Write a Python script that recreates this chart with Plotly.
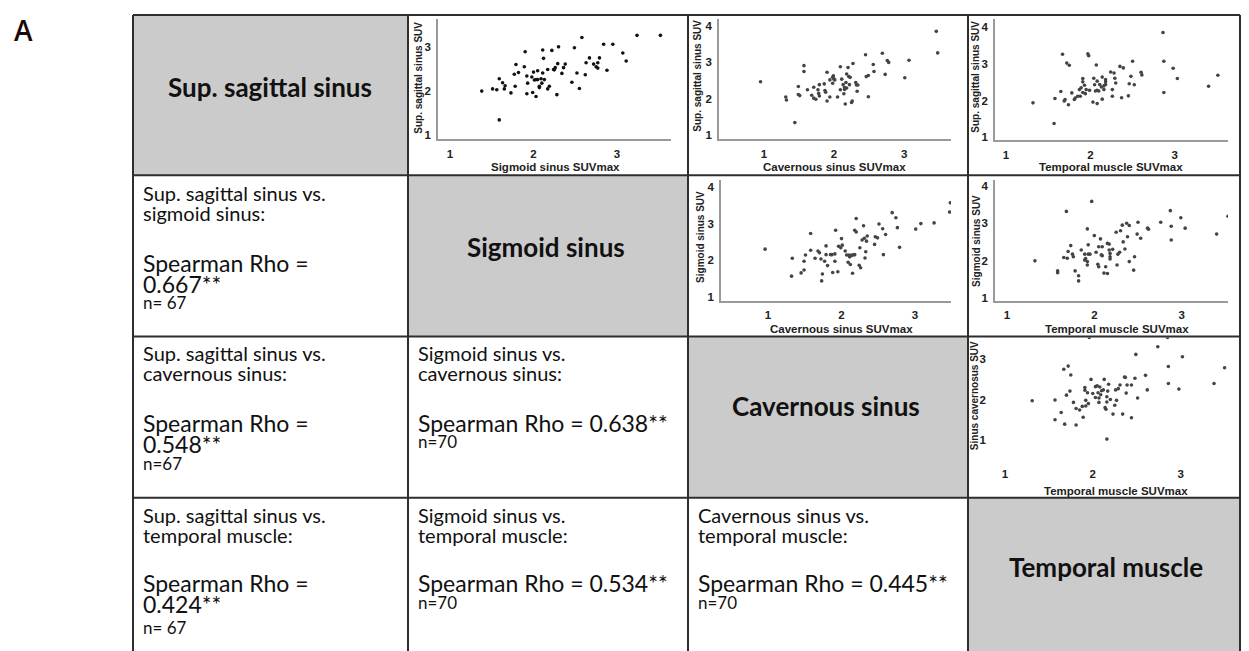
import plotly.graph_objects as go

# ---------------- data ----------------
sss_vs_sig_x = [1.38,1.51,1.56,1.59,1.63,1.66,1.65,1.59,1.73,1.77,1.78,1.79,1.82,1.89,1.90,1.92,1.92,1.93,1.98,1.99,
                2.00,2.01,2.03,2.05,2.05,2.07,2.09,2.10,2.11,2.11,2.12,2.13,2.17,2.17,2.19,2.22,2.24,2.26,2.28,2.29,
                2.30,2.34,2.36,2.38,2.46,2.49,2.52,2.55,2.58,2.62,2.63,2.67,2.72,2.75,2.77,2.77,2.79,2.84,2.88,2.95,
                3.07,3.11,3.24,3.52,2.03,2.07,2.25]
sss_vs_sig_y = [2.00,2.05,2.03,2.28,2.19,2.12,2.05,1.35,1.96,2.38,2.11,2.60,2.42,2.55,2.89,2.34,1.94,2.18,2.32,1.97,
                2.43,2.25,1.88,2.46,2.26,2.11,2.28,2.18,2.93,2.41,2.74,2.26,2.49,2.05,2.11,2.92,2.49,2.53,1.92,2.62,
                3.00,2.40,2.53,2.61,2.20,2.98,2.41,2.06,3.21,2.37,2.64,2.75,2.61,2.55,2.64,2.52,2.75,3.06,2.47,3.06,
                2.86,2.68,3.26,3.26,2.26,2.08,2.48]

sss_vs_cav_x = [0.95,1.31,1.32,1.44,1.49,1.49,1.51,1.57,1.57,1.62,1.68,1.71,1.71,1.74,1.77,1.79,1.78,1.79,1.86,1.87,
                1.88,1.90,1.90,1.94,1.94,1.98,1.98,1.99,2.00,2.01,2.05,2.09,2.09,2.11,2.13,2.14,2.15,2.16,2.17,2.18,
                2.18,2.20,2.21,2.22,2.23,2.25,2.26,2.27,2.31,2.32,2.33,2.34,2.45,2.46,2.49,2.49,2.56,2.57,2.69,2.73,
                2.76,2.78,3.01,3.07,3.46,3.48,2.15]
sss_vs_cav_y = [2.47,2.05,1.97,1.35,2.34,2.12,2.09,2.91,2.75,2.25,2.10,2.32,2.02,1.99,2.25,2.39,2.15,2.08,2.41,2.23,
                2.18,2.73,1.94,2.52,2.05,2.43,2.59,2.63,2.54,2.52,2.05,2.88,2.25,2.54,2.39,2.14,2.26,1.86,2.45,2.68,
                2.30,2.86,2.61,2.39,2.59,1.90,1.94,2.97,2.45,2.38,2.21,2.38,3.21,2.61,2.64,2.06,2.94,2.75,3.25,2.67,
                3.05,3.00,2.58,3.06,3.85,3.26,2.31]

sss_vs_tem_x = [1.32,1.57,1.58,1.65,1.67,1.69,1.70,1.72,1.74,1.75,1.78,1.81,1.82,1.85,1.87,1.88,1.89,1.91,1.91,1.91,
                1.93,1.94,1.95,1.97,1.98,2.03,2.04,2.05,2.06,2.07,2.08,2.08,2.08,2.10,2.11,2.13,2.14,2.14,2.16,2.18,
                2.18,2.18,2.24,2.26,2.26,2.28,2.29,2.30,2.35,2.37,2.39,2.45,2.46,2.48,2.50,2.52,2.60,2.61,2.86,2.87,
                2.87,2.98,3.03,3.40,3.51,2.16,1.99]
sss_vs_tem_y = [1.94,1.38,2.06,2.25,3.26,1.99,2.03,3.02,1.89,2.96,2.21,2.03,2.07,2.12,2.30,2.12,2.35,2.22,2.60,2.51,
                2.42,2.19,2.30,3.27,3.22,1.96,2.61,2.43,2.26,2.97,1.92,2.53,2.28,2.26,2.44,2.37,2.64,2.04,2.30,2.51,
                2.44,2.57,2.78,2.30,2.12,2.75,2.61,2.48,2.93,2.08,2.89,2.13,2.46,2.66,3.07,2.43,2.77,2.70,3.85,3.07,
                2.22,2.88,2.60,2.39,2.69,2.40,2.28]

sig_vs_cav_x = [0.96,1.32,1.33,1.45,1.49,1.49,1.51,1.58,1.58,1.64,1.68,1.72,1.73,1.74,1.77,1.79,1.79,1.81,1.85,1.87,
                1.88,1.91,1.91,1.92,1.95,1.99,2.00,2.01,2.05,2.07,2.09,2.10,2.11,2.12,2.14,2.15,2.16,2.18,2.18,2.20,
                2.20,2.24,2.25,2.26,2.28,2.30,2.32,2.33,2.34,2.35,2.45,2.46,2.49,2.51,2.56,2.57,2.69,2.74,2.76,2.79,
                3.01,3.08,3.26,3.47,3.48,2.13,2.31,1.96,2.60,1.70]
sig_vs_cav_y = [2.30,1.56,2.05,1.65,1.73,1.97,2.14,2.27,2.73,2.05,2.25,2.03,1.43,1.62,1.97,2.15,2.39,1.85,2.15,2.15,
                1.66,1.97,2.17,2.82,1.68,2.34,2.59,2.41,2.25,2.14,1.94,2.14,2.09,1.88,2.14,1.64,2.14,2.82,2.15,3.14,
                2.77,1.86,2.34,1.79,2.55,2.94,2.06,2.23,2.52,2.66,2.43,2.64,2.61,2.99,2.86,2.15,3.30,3.16,2.89,2.35,
                2.85,3.00,3.02,3.32,3.57,2.12,2.60,2.38,2.70,2.20]

sig_vs_tem_x = [1.32,1.58,1.58,1.65,1.68,1.69,1.70,1.73,1.75,1.76,1.78,1.82,1.82,1.85,1.89,1.89,1.92,1.92,1.92,1.93,
                1.93,1.95,1.97,2.00,2.04,2.05,2.05,2.07,2.08,2.09,2.09,2.11,2.13,2.15,2.15,2.17,2.17,2.18,2.18,2.18,
                2.26,2.25,2.27,2.29,2.30,2.32,2.35,2.37,2.38,2.40,2.40,2.45,2.46,2.49,2.50,2.53,2.61,2.62,2.76,2.87,
                2.88,2.88,2.99,3.04,3.40,3.53,2.02,1.90,2.21,2.33]
sig_vs_tem_y = [1.99,1.72,1.67,2.08,3.32,2.06,2.24,2.40,2.17,2.10,1.72,1.59,1.45,2.28,2.17,2.01,1.97,1.88,2.85,2.42,
                2.17,2.17,3.59,2.67,1.90,1.83,2.37,2.58,2.15,2.37,2.13,1.66,1.83,2.46,1.65,2.44,2.28,2.19,2.10,2.04,
                1.88,2.76,2.17,2.22,2.80,2.95,2.31,3.00,2.64,1.97,2.94,1.74,2.10,2.71,3.03,2.60,2.87,2.84,3.03,3.34,
                2.92,2.55,3.15,2.87,2.71,3.19,2.22,2.05,2.30,2.50]

cav_vs_tem_x = [1.31,1.57,1.57,1.64,1.67,1.68,1.70,1.72,1.74,1.75,1.78,1.81,1.81,1.85,1.88,1.89,1.91,1.91,1.92,1.92,
                1.94,1.96,1.98,2.03,2.03,2.05,2.06,2.07,2.07,2.08,2.09,2.10,2.12,2.13,2.14,2.15,2.16,2.16,2.16,2.17,
                2.18,2.23,2.25,2.26,2.27,2.29,2.31,2.34,2.36,2.37,2.38,2.39,2.44,2.44,2.48,2.49,2.51,2.60,2.62,2.74,
                2.85,2.86,2.86,2.98,3.02,3.38,3.50,2.00,2.20,1.95]
cav_vs_tem_y = [1.97,1.99,1.50,1.68,2.75,1.39,2.11,2.83,2.21,2.61,1.93,1.78,1.37,1.74,1.83,1.56,2.30,2.23,1.98,1.84,
                2.17,3.54,2.50,2.32,2.05,2.34,2.17,2.04,1.93,2.31,2.12,2.22,2.24,2.50,1.80,1.76,2.07,1.94,1.02,2.21,
                2.38,1.64,1.86,2.24,1.98,2.27,2.36,1.64,2.56,2.55,2.16,2.36,2.36,1.55,2.53,3.12,2.04,2.60,2.24,3.31,
                3.54,2.82,2.40,2.26,3.06,2.40,2.79,2.15,2.00,1.90]

region_names = ["Sup. sagittal sinus", "Sigmoid sinus", "Cavernous sinus", "Temporal muscle"]
pair_titles = {
    (1, 0): ["Sup. sagittal sinus vs.", "sigmoid sinus:"],
    (2, 0): ["Sup. sagittal sinus vs.", "cavernous sinus:"],
    (3, 0): ["Sup. sagittal sinus vs.", "temporal muscle:"],
    (2, 1): ["Sigmoid sinus vs.", "cavernous sinus:"],
    (3, 1): ["Sigmoid sinus vs.", "temporal muscle:"],
    (3, 2): ["Cavernous sinus vs.", "temporal muscle:"],
}
rho_values = {(1, 0): "0.667**", (2, 0): "0.548**", (3, 0): "0.424**",
              (2, 1): "0.638**", (3, 1): "0.534**", (3, 2): "0.445**"}
n_labels = {(1, 0): "n= 67", (2, 0): "n=67", (3, 0): "n= 67",
            (2, 1): "n=70", (3, 1): "n=70", (3, 2): "n=70"}

# ---------------- layout helpers ----------------
# the page body has an 8px margin, so the figure is offset by OFF px
OFF = 8
W, H = 1249 - OFF, 651 - OFF
def fx(p): return (p - OFF) / W
def fy(p): return 1 - (p - OFF) / H

col_x = [133, 408, 688, 968, 1240]
row_y = [15, 176, 338, 500, 665]
GRAY = "#cbcbcb"
LINE = "#2e2e2e"
TXT_FONT = "Lato, Carlito, sans-serif"
AX_FONT = "Arial, Liberation Sans, sans-serif"

fig = go.Figure()
shapes, annots = [], []

# diagonal gray cells
for i in range(4):
    shapes.append(dict(type="rect", xref="paper", yref="paper",
                       x0=fx(col_x[i]), x1=fx(col_x[i + 1]), y0=fy(row_y[i + 1]), y1=fy(row_y[i]),
                       fillcolor=GRAY, line=dict(width=0), layer="below"))
    annots.append(dict(x=fx([270, 546, 826, 1106][i]), y=fy([87, 248, 408, 570][i]),
                       xref="paper", yref="paper", text="<b>" + region_names[i] + "</b>",
                       showarrow=False, xanchor="center", yanchor="middle",
                       font=dict(family=TXT_FONT, size=26, color="#111")))

# grid lines
for x in col_x:
    shapes.append(dict(type="line", xref="paper", yref="paper", x0=fx(x), x1=fx(x),
                       y0=fy(row_y[0]), y1=fy(row_y[-1]), line=dict(color=LINE, width=2), layer="above"))
for y in row_y[:-1]:
    shapes.append(dict(type="line", xref="paper", yref="paper", x0=fx(col_x[0]), x1=fx(col_x[-1]),
                       y0=fy(y), y1=fy(y), line=dict(color=LINE, width=2), layer="above"))

# lower triangle text
row_text_y = {1: (194, 214, 264, 285, 304), 2: (355, 375, 425, 446, 466), 3: (517, 537, 586, 607, 630)}
for (r, c), lines in pair_titles.items():
    x0 = col_x[c] + 9
    l1, l2, ys, yv, yn = row_text_y[r]
    def add(t, y, size):
        annots.append(dict(x=fx(x0), y=fy(y), xref="paper", yref="paper", text=t, showarrow=False,
                           xanchor="left", yanchor="middle", borderpad=0,
                           font=dict(family=TXT_FONT, size=size, color="#111")))
    add(lines[0], l1, 20)
    add(lines[1], l2, 20)
    if c == 0:
        add("Spearman Rho =", ys, 23)
        add(rho_values[(r, c)], yv, 23)
        add(n_labels[(r, c)], yn, 17)
    else:
        add("Spearman Rho = " + rho_values[(r, c)], ys, 23)
        add(n_labels[(r, c)], yv - 2, 17)

# scatter panels: (x, y, xtitle, ytitle, xdom px, ydom px (bottom, top), xrange, yrange, yticks,
#                  xtitle pos, ytitle pos, marker colour, show axis lines)
panels = [
    (sss_vs_sig_x, sss_vs_sig_y, "Sigmoid sinus SUVmax", "Sup. sagittal sinus SUV",
     (438, 671), (140, 19), (0.856, 3.647), (0.91, 3.63), [1, 2, 3], (555, 168), (419, 78), "#111", True),
    (sss_vs_cav_x, sss_vs_cav_y, "Cavernous sinus SUVmax", "Sup. sagittal sinus SUV",
     (719, 951), (140, 19), (0.357, 3.67), (0.89, 4.19), [1, 2, 3, 4], (834, 168), (698, 76), "#444", True),
    (sss_vs_tem_x, sss_vs_tem_y, "Temporal muscle SUVmax", "Sup. sagittal sinus SUV",
     (995, 1228), (141, 19), (0.87, 3.63), (0.92, 4.22), [1, 2, 3, 4], (1111, 168), (976, 77), "#444", True),
    (sig_vs_cav_x, sig_vs_cav_y, "Cavernous sinus SUVmax", "Sigmoid sinus SUV",
     (721, 951), (302, 181), (0.36, 3.49), (0.89, 4.19), [1, 2, 3, 4], (841, 331), (701, 238), "#444", True),
    (sig_vs_tem_x, sig_vs_tem_y, "Temporal muscle SUVmax", "Sigmoid sinus SUV",
     (995, 1228), (302, 181), (0.863, 3.53), (0.92, 4.16), [1, 2, 3, 4], (1117, 331), (977, 242), "#444", True),
    (cav_vs_tem_x, cav_vs_tem_y, "Temporal muscle SUVmax", "Sinus cavernosus SUV",
     (990, 1236), (465, 339), (0.83, 3.63), (0.43, 3.54), [1, 2, 3], (1116, 493), (974, 398), "#444", False),
]

layout_axes = {}
for k, (xs, ys, xt, yt, xd, yd, xr, yr, yt_vals, xtp, ytp, mc, showl) in enumerate(panels, start=1):
    sx = "" if k == 1 else str(k)
    fig.add_trace(go.Scatter(x=xs, y=ys, mode="markers", xaxis="x" + sx, yaxis="y" + sx,
                             marker=dict(size=3.6, color=mc), showlegend=False, cliponaxis=True,
                             hoverinfo="x+y"))
    tick_font = dict(family=AX_FONT, size=11.5, color="#222", weight="bold")
    layout_axes["xaxis" + sx] = dict(domain=[fx(xd[0]), fx(xd[1])], range=list(xr), anchor="y" + sx,
                                     showgrid=False, zeroline=False, showline=showl, linecolor="#9a9a9a",
                                     linewidth=1.5, tickvals=[1, 2, 3], ticks="", tickfont=tick_font,
                                     ticklabelstandoff=3, fixedrange=True)
    layout_axes["yaxis" + sx] = dict(domain=[fy(yd[0]), fy(yd[1])], range=list(yr), anchor="x" + sx,
                                     showgrid=False, zeroline=False, showline=showl, linecolor="#9a9a9a",
                                     linewidth=1.5, tickvals=yt_vals, ticks="", tickfont=tick_font,
                                     ticklabelstandoff=3, fixedrange=True)
    annots.append(dict(x=fx(xtp[0]), y=fy(xtp[1]), xref="paper", yref="paper", text=xt, showarrow=False,
                       xanchor="center", yanchor="middle",
                       font=dict(family=AX_FONT, size=11.5, color="#222", weight="bold")))
    annots.append(dict(x=fx(ytp[0]), y=fy(ytp[1]), xref="paper", yref="paper", text=yt, showarrow=False,
                       xanchor="center", yanchor="middle", textangle=-90,
                       font=dict(family=AX_FONT, size=10, color="#222", weight="bold")))

annots.append(dict(x=fx(12), y=fy(30), xref="paper", yref="paper", text="A", showarrow=False,
                   xanchor="left", yanchor="middle",
                   font=dict(family="Open Sans, sans-serif", size=28, color="#1a0a0a", weight=600)))

fig.update_layout(width=W, height=H, margin=dict(l=0, r=0, t=0, b=0), autosize=False,
                  paper_bgcolor="white", plot_bgcolor="rgba(0,0,0,0)",
                  shapes=shapes, annotations=annots, **layout_axes)

fig.write_html("out.html")
